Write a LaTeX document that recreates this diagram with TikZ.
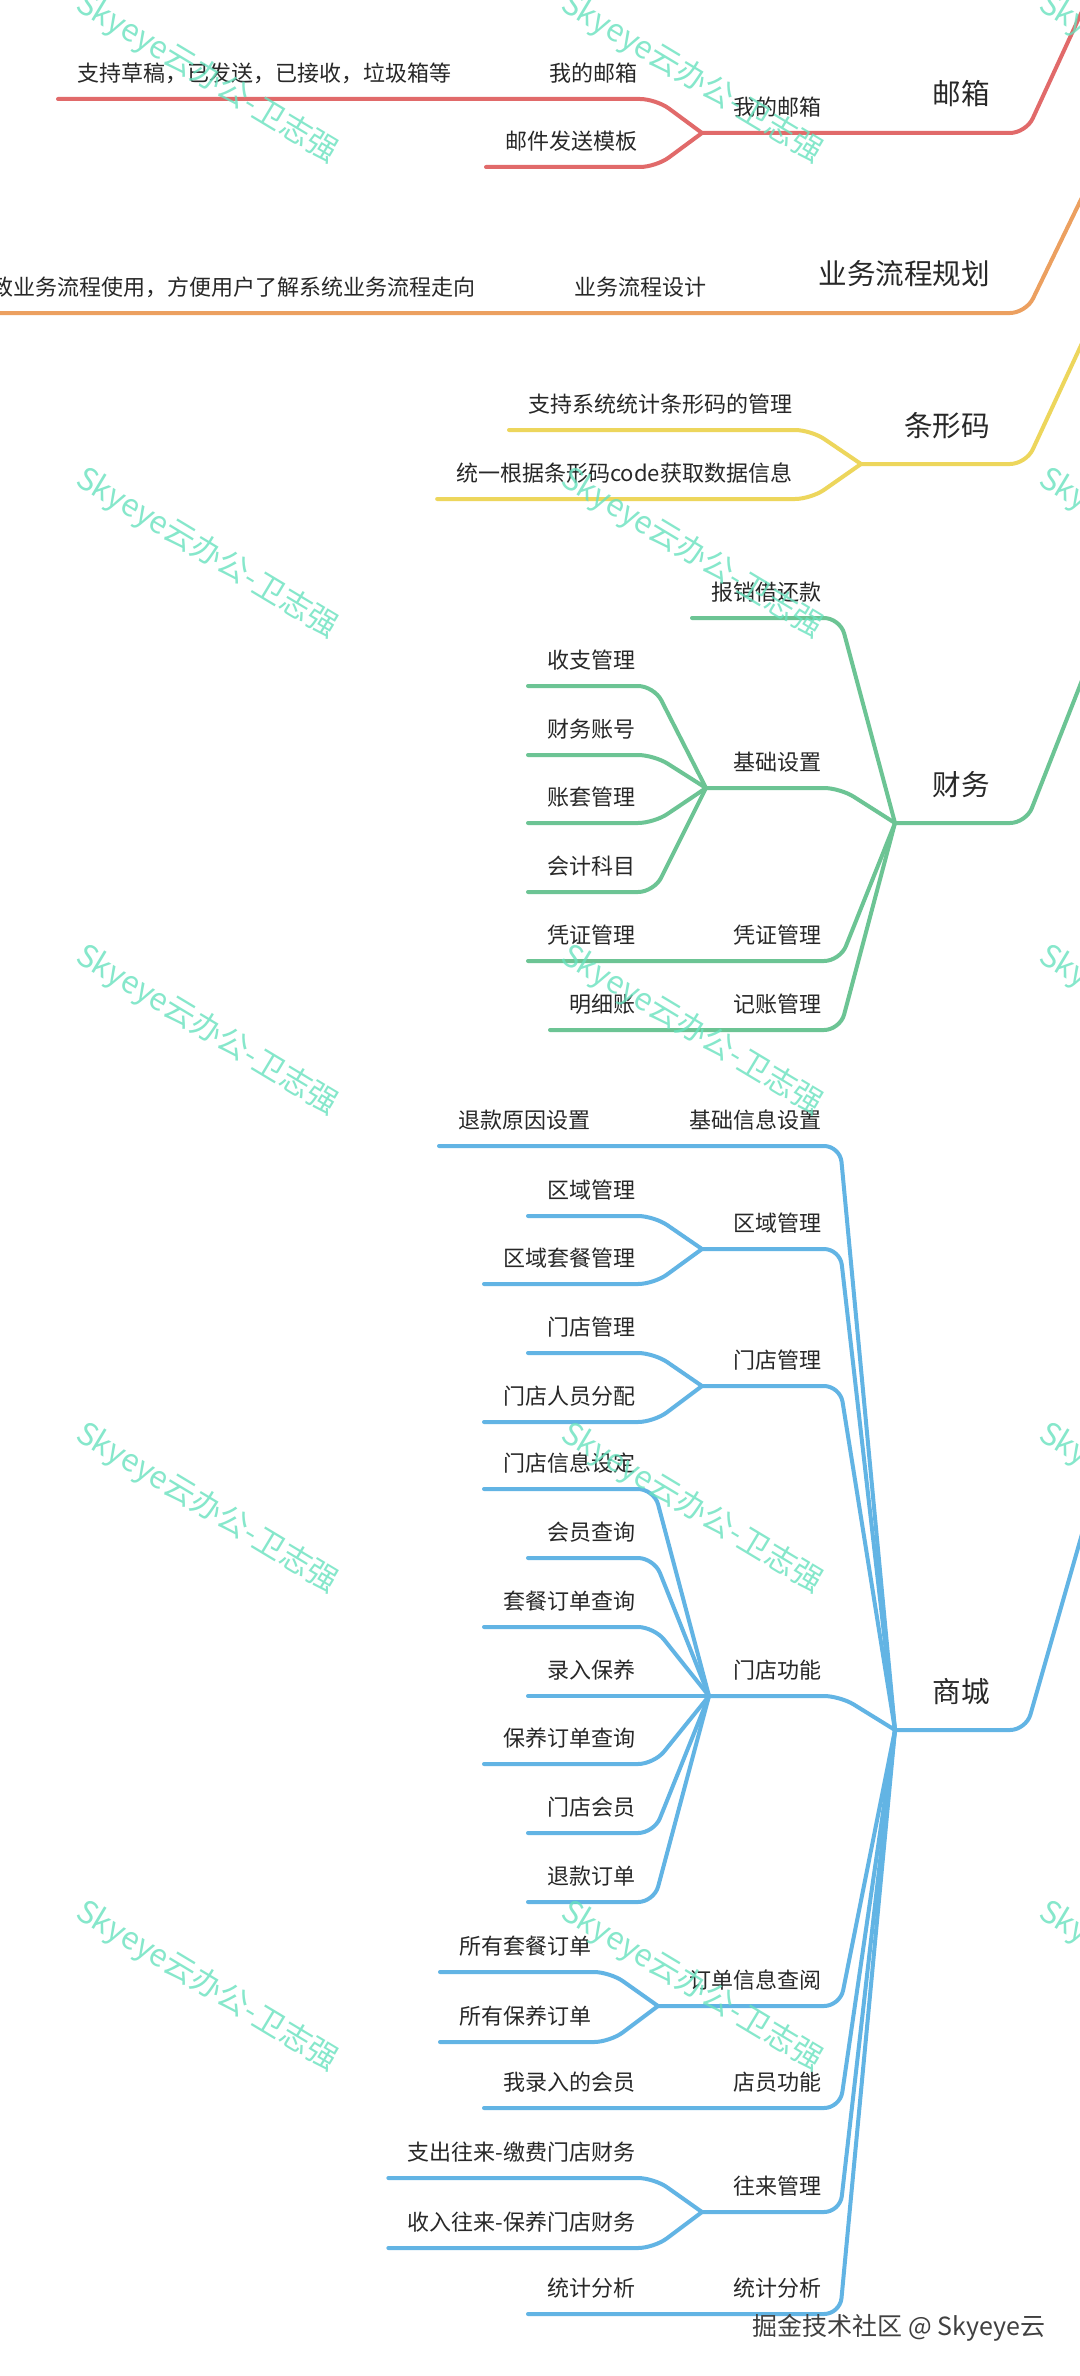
\documentclass[tikz,border=0pt]{standalone}
\usepackage{fontspec}
\newfontfamily\cjk{Noto Sans CJK SC}
\definecolor{mred}{RGB}{225,106,106}
\definecolor{morange}{RGB}{236,160,96}
\definecolor{myellow}{RGB}{237,214,92}
\definecolor{mgreen}{RGB}{108,196,148}
\definecolor{mblue}{RGB}{98,180,228}
\definecolor{wmark}{RGB}{104,226,190}
\definecolor{txt}{RGB}{40,40,40}
\begin{document}
\begin{tikzpicture}[x=0.5pt,y=-0.5pt,
leaf/.style={font=\cjk\fontsize{11pt}{13pt}\selectfont,text=txt,anchor=south east,inner xsep=9.5pt,inner ysep=8.8pt,text depth=0pt,outer sep=0pt},
topic/.style={leaf,font=\cjk\fontsize{14.3pt}{17pt}\selectfont,inner xsep=18pt,inner ysep=14pt},
branch/.style={line width=2pt,rounded corners=8pt,line cap=round,line join=round},
wm/.style={font=\cjk\fontsize{15.5pt}{18pt}\selectfont,text=wmark,rotate=-31,opacity=.8},
foot/.style={font=\cjk\fontsize{12.5pt}{15pt}\selectfont,text=black!75}
]
\useasboundingbox (0,0) rectangle (1080,2376);
\fill[white] (0,0) rectangle (1080,2376);
\clip (0,0) rectangle (1080,2376);
% mail
\node[topic] (mail) at (1026,133) {邮箱};
\node[leaf] (mymail) at (840,133) {我的邮箱};
\node[leaf] (mymail1) at (656,99) {我的邮箱};
\node[leaf] (draft) at (470,99) {支持草稿，已发送，已接收，垃圾箱等};
\node[leaf] (tpl) at (656,167) {邮件发送模板};
\coordinate (jmail) at (702,133);
\coordinate (rmail) at (1090,-6);
\draw[branch,mred] (draft.south west) -- (mymail1.south east) -- (jmail);
\draw[branch,mred] (tpl.south west) -- (tpl.south east) -- (jmail);
\draw[branch,mred] (jmail) -- (mail.south east) -- (rmail);
% flow
\node[topic] (flow) at (1026,313) {业务流程规划};
\node[leaf] (flowd) at (725,313) {业务流程设计};
\node[leaf] (flowt) at (494,313) {致业务流程使用，方便用户了解系统业务流程走向};
\coordinate (rflow) at (1090,181);
\draw[branch,morange] (flowt.south west) -- (flow.south east) -- (rflow);
% barcode
\node[topic] (bar) at (1026,464) {条形码};
\node[leaf] (bar1) at (811,430) {支持系统统计条形码的管理};
\node[leaf] (bar2) at (811,499) {统一根据条形码code获取数据信息};
\coordinate (jbar) at (861,464);
\coordinate (rbar) at (1090,326);
\draw[branch,myellow] (bar1.south west) -- (bar1.south east) -- (jbar);
\draw[branch,myellow] (bar2.south west) -- (bar2.south east) -- (jbar);
\draw[branch,myellow] (jbar) -- (bar.south east) -- (rbar);
% finance
\node[topic] (fin) at (1026,823) {财务};
\node[leaf] (loan) at (840,618) {报销借还款};
\node[leaf] (base) at (840,788) {基础设置};
\node[leaf] (b1) at (654,686) {收支管理};
\node[leaf] (b2) at (654,755) {财务账号};
\node[leaf] (b3) at (654,823) {账套管理};
\node[leaf] (b4) at (654,892) {会计科目};
\node[leaf] (vou) at (840,961) {凭证管理};
\node[leaf] (vou1) at (654,961) {凭证管理};
\node[leaf] (book) at (840,1030) {记账管理};
\node[leaf] (book1) at (654,1030) {明细账};
\coordinate (jfin) at (895,823);
\coordinate (jbase) at (706,788);
\coordinate (rfin) at (1090,660);
\draw[branch,mgreen] (jfin) -- (fin.south east) -- (rfin);
\draw[branch,mgreen] (loan.south west) -- (loan.south east) -- (jfin);
\draw[branch,mgreen] (jbase) -- (base.south east) -- (jfin);
\draw[branch,mgreen] (b1.south west) -- (b1.south east) -- (jbase);
\draw[branch,mgreen] (b2.south west) -- (b2.south east) -- (jbase);
\draw[branch,mgreen] (b3.south west) -- (b3.south east) -- (jbase);
\draw[branch,mgreen] (b4.south west) -- (b4.south east) -- (jbase);
\draw[branch,mgreen] (vou1.south west) -- (vou.south east) -- (jfin);
\draw[branch,mgreen] (book1.south west) -- (book.south east) -- (jfin);
% mall
\node[topic] (mall) at (1026,1730) {商城};
\node[leaf] (info) at (840,1146) {基础信息设置};
\node[leaf] (info1) at (609,1146) {退款原因设置};
\node[leaf] (area) at (840,1249) {区域管理};
\node[leaf] (area1) at (654,1216) {区域管理};
\node[leaf] (area2) at (654,1284) {区域套餐管理};
\node[leaf] (shop) at (840,1386) {门店管理};
\node[leaf] (shop1) at (654,1353) {门店管理};
\node[leaf] (shop2) at (654,1422) {门店人员分配};
\node[leaf] (func) at (840,1696) {门店功能};
\node[leaf] (f1) at (654,1489) {门店信息设定};
\node[leaf] (f2) at (654,1558) {会员查询};
\node[leaf] (f3) at (654,1627) {套餐订单查询};
\node[leaf] (f4) at (654,1696) {录入保养};
\node[leaf] (f5) at (654,1764) {保养订单查询};
\node[leaf] (f6) at (654,1833) {门店会员};
\node[leaf] (f7) at (654,1902) {退款订单};
\node[leaf] (order) at (840,2006) {订单信息查阅};
\node[leaf] (order1) at (610,1972) {所有套餐订单};
\node[leaf] (order2) at (610,2042) {所有保养订单};
\node[leaf] (staff) at (840,2108) {店员功能};
\node[leaf] (staff1) at (654,2108) {我录入的会员};
\node[leaf] (deal) at (840,2212) {往来管理};
\node[leaf] (deal1) at (654,2178) {支出往来-缴费门店财务};
\node[leaf] (deal2) at (654,2248) {收入往来-保养门店财务};
\node[leaf] (stat) at (840,2314) {统计分析};
\node[leaf] (stat1) at (654,2314) {统计分析};
\coordinate (jmall) at (895,1730);
\coordinate (jarea) at (702,1249);
\coordinate (jshop) at (702,1386);
\coordinate (jfunc) at (709,1696);
\coordinate (jorder) at (658,2006);
\coordinate (jdeal) at (702,2212);
\coordinate (rmall) at (1090,1506);
\draw[branch,mblue] (jmall) -- (mall.south east) -- (rmall);
\draw[branch,mblue] (info1.south west) -- (info.south east) -- (jmall);
\draw[branch,mblue] (jarea) -- (area.south east) -- (jmall);
\draw[branch,mblue] (area1.south west) -- (area1.south east) -- (jarea);
\draw[branch,mblue] (area2.south west) -- (area2.south east) -- (jarea);
\draw[branch,mblue] (jshop) -- (shop.south east) -- (jmall);
\draw[branch,mblue] (shop1.south west) -- (shop1.south east) -- (jshop);
\draw[branch,mblue] (shop2.south west) -- (shop2.south east) -- (jshop);
\draw[branch,mblue] (jfunc) -- (func.south east) -- (jmall);
\draw[branch,mblue] (f1.south west) -- (f1.south east) -- (jfunc);
\draw[branch,mblue] (f2.south west) -- (f2.south east) -- (jfunc);
\draw[branch,mblue] (f3.south west) -- (f3.south east) -- (jfunc);
\draw[branch,mblue] (f4.south west) -- (f4.south east) -- (jfunc);
\draw[branch,mblue] (f5.south west) -- (f5.south east) -- (jfunc);
\draw[branch,mblue] (f6.south west) -- (f6.south east) -- (jfunc);
\draw[branch,mblue] (f7.south west) -- (f7.south east) -- (jfunc);
\draw[branch,mblue] (jorder) -- (order.south east) -- (jmall);
\draw[branch,mblue] (order1.south west) -- (order1.south east) -- (jorder);
\draw[branch,mblue] (order2.south west) -- (order2.south east) -- (jorder);
\draw[branch,mblue] (staff1.south west) -- (staff.south east) -- (jmall);
\draw[branch,mblue] (jdeal) -- (deal.south east) -- (jmall);
\draw[branch,mblue] (deal1.south west) -- (deal1.south east) -- (jdeal);
\draw[branch,mblue] (deal2.south west) -- (deal2.south east) -- (jdeal);
\draw[branch,mblue] (stat1.south west) -- (stat.south east) -- (jmall);
% watermark
\node[wm] (w11) at (207,78) {Skyeye云办公-卫志强}; \node[wm] (w12) at (692,78) {Skyeye云办公-卫志强}; \node[wm] (w13) at (1170,78) {Skyeye云办公-卫志强};
\node[wm] (w21) at (207,553) {Skyeye云办公-卫志强}; \node[wm] (w22) at (692,553) {Skyeye云办公-卫志强}; \node[wm] (w23) at (1170,553) {Skyeye云办公-卫志强};
\node[wm] (w31) at (207,1030) {Skyeye云办公-卫志强}; \node[wm] (w32) at (692,1030) {Skyeye云办公-卫志强}; \node[wm] (w33) at (1170,1030) {Skyeye云办公-卫志强};
\node[wm] (w41) at (207,1508) {Skyeye云办公-卫志强}; \node[wm] (w42) at (692,1508) {Skyeye云办公-卫志强}; \node[wm] (w43) at (1170,1508) {Skyeye云办公-卫志强};
\node[wm] (w51) at (207,1986) {Skyeye云办公-卫志强}; \node[wm] (w52) at (692,1986) {Skyeye云办公-卫志强}; \node[wm] (w53) at (1170,1986) {Skyeye云办公-卫志强};
\node[foot] (src) at (899,2328) {掘金技术社区 @ Skyeye云};
\end{tikzpicture}
\end{document}
